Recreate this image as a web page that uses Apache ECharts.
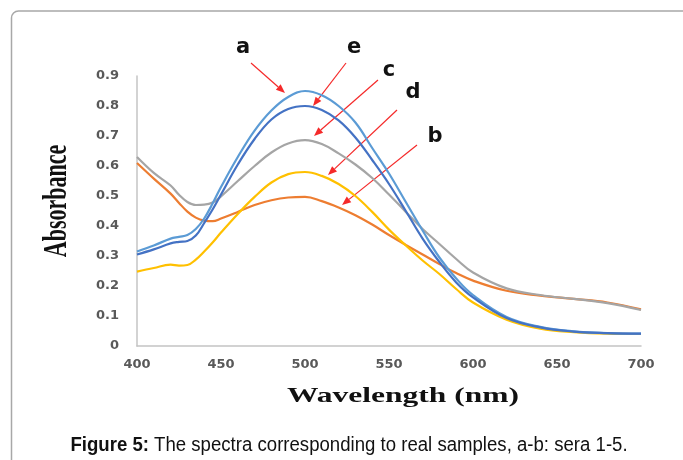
<!DOCTYPE html>
<html>
<head>
<meta charset="utf-8">
<script src="https://cdn.jsdelivr.net/npm/echarts@6/dist/echarts.min.js"></script>
<style>
html,body{margin:0;padding:0;background:#fff;}
#chart{width:683px;height:460px;}
</style>
</head>
<body>
<div id="chart"></div>
<script>
// ---- data ----
const wavelengths = [400,410,420,425,430,435,440,445,450,460,470,480,490,500,510,520,530,540,550,560,570,580,590,600,620,640,660,680,700];
const sampleA = [0.315,0.335,0.358,0.364,0.370,0.390,0.425,0.475,0.530,0.630,0.718,0.785,0.830,0.850,0.836,0.800,0.745,0.660,0.575,0.480,0.385,0.295,0.225,0.170,0.097,0.064,0.049,0.043,0.041];
const sampleB = [0.610,0.558,0.508,0.477,0.448,0.428,0.418,0.416,0.425,0.447,0.470,0.486,0.495,0.497,0.483,0.462,0.436,0.405,0.370,0.337,0.305,0.273,0.243,0.218,0.184,0.168,0.157,0.145,0.122];
const sampleC = [0.630,0.577,0.535,0.504,0.480,0.470,0.471,0.478,0.499,0.550,0.600,0.645,0.675,0.686,0.673,0.642,0.605,0.560,0.505,0.447,0.390,0.340,0.290,0.245,0.192,0.170,0.157,0.143,0.120];
const sampleD = [0.248,0.260,0.271,0.268,0.270,0.288,0.315,0.345,0.378,0.440,0.497,0.545,0.573,0.580,0.567,0.540,0.500,0.447,0.388,0.335,0.285,0.240,0.190,0.145,0.088,0.058,0.046,0.041,0.040];
const sampleE = [0.305,0.322,0.342,0.347,0.350,0.368,0.410,0.455,0.505,0.605,0.690,0.755,0.790,0.800,0.787,0.752,0.695,0.620,0.540,0.450,0.358,0.280,0.212,0.162,0.093,0.062,0.048,0.043,0.041];
const xTicks = [400,450,500,550,600,650,700];
const yTicks = [0,0.1,0.2,0.3,0.4,0.5,0.6,0.7,0.8,0.9];
const seriesNames = ['a','b','c','d','e'];

const chart = echarts.init(document.getElementById('chart'), null, {renderer:'canvas'});

function pairs(vals){ return wavelengths.map((w,i)=>[w, vals[i]]); }
function mkSeries(name, vals, color, z){
  return {name:name, type:'line', data:pairs(vals), smooth:0.4, showSymbol:false, symbol:'none',
          lineStyle:{color:color, width:2.2}, z:z, silent:true};
}

// annotation arrows (pixel positions of the labels/arrows in the figure)
const RED = '#F52A2A';
function arrow(x1,y1,x2,y2){
  const ang = Math.atan2(y2-y1, x2-x1);
  const L = 9, W = 3.6;
  const bx = x2 - L*Math.cos(ang), by = y2 - L*Math.sin(ang);
  const px = -Math.sin(ang)*W, py = Math.cos(ang)*W;
  return [
    {type:'line', silent:true, shape:{x1:x1,y1:y1,x2:bx,y2:by}, style:{stroke:RED, lineWidth:1.2}},
    {type:'polygon', silent:true, shape:{points:[[x2,y2],[bx+px,by+py],[bx-px,by-py]]}, style:{fill:RED}}
  ];
}
function letter(t,x,y){
  return {type:'text', silent:true, x:x, y:y, style:{text:t, font:'bold 21px "DejaVu Sans", Verdana, sans-serif', fill:'#111', textAlign:'center', textVerticalAlign:'middle'}};
}

const graphics = [
  {type:'rect', silent:true, shape:{x:11.5, y:11, width:720, height:500, r:7}, style:{fill:'none', stroke:'#a8a8a8', lineWidth:1.5}},
  ...arrow(251,63,285,93),
  ...arrow(346,63,313,106),
  ...arrow(378,80,314,136),
  ...arrow(397,110,328,175),
  ...arrow(417,145,342,205),
  letter('a',243,48),
  letter('e',354,48),
  letter('c',389,71),
  letter('d',413,93),
  letter('b',435,137),
  {type:'text', silent:true, x:403, y:397, scaleX:1.5, style:{text:'Wavelength (nm)', font:'bold 21px "Liberation Serif", "Times New Roman", serif', fill:'#111', textAlign:'center', textVerticalAlign:'middle'}},
  {type:'text', silent:true, x:57, y:201, rotation:Math.PI/2, scaleY:1.5, style:{text:'Absorbance', font:'bold 22px "Liberation Serif", "Times New Roman", serif', fill:'#111', textAlign:'center', textVerticalAlign:'middle'}},
  {type:'text', silent:true, x:349, y:445, scaleX:0.93, style:{
     text:'{b|Figure 5:} The spectra corresponding to real samples, a-b: sera 1-5.',
     font:'20px "Liberation Sans", Arial, sans-serif', fill:'#111',
     textAlign:'center', textVerticalAlign:'middle',
     rich:{b:{fontWeight:'bold', fontSize:20, fontFamily:'"Liberation Sans", Arial, sans-serif', fill:'#111'}}
  }}
];

chart.setOption({
  animation:false,
  backgroundColor:'#ffffff',
  grid:{left:137, right:42, top:76, bottom:114, containLabel:false},
  xAxis:{type:'value', min:400, max:700, interval:50,
    axisLine:{show:true, onZero:false, lineStyle:{color:'#c4c4c4', width:1.5}},
    axisTick:{show:false}, splitLine:{show:false},
    axisLabel:{margin:12, color:'#595959', fontFamily:'"DejaVu Sans", Verdana, sans-serif', fontWeight:'bold', fontSize:13,
      formatter:function(v){ return xTicks.indexOf(v)>=0 ? String(v) : ''; }}
  },
  yAxis:{type:'value', min:0, max:0.9, interval:0.1,
    axisLine:{show:true, lineStyle:{color:'#c4c4c4', width:1.5}},
    axisTick:{show:false}, splitLine:{show:false},
    axisLabel:{margin:18, color:'#595959', fontFamily:'"DejaVu Sans", Verdana, sans-serif', fontWeight:'bold', fontSize:13,
      formatter:function(v){
        const k = yTicks.findIndex(t=>Math.abs(t-v)<1e-6);
        if(k<0) return '';
        return k===0 ? '0' : yTicks[k].toFixed(1);
      }}
  },
  series:[
    mkSeries(seriesNames[1], sampleB, '#ED7D31', 2),
    mkSeries(seriesNames[2], sampleC, '#A5A5A5', 2),
    mkSeries(seriesNames[3], sampleD, '#FFC000', 3),
    mkSeries(seriesNames[0], sampleA, '#5B9BD5', 4),
    mkSeries(seriesNames[4], sampleE, '#4472C4', 5)
  ],
  graphic:{elements:graphics}
});
</script>
</body>
</html>
